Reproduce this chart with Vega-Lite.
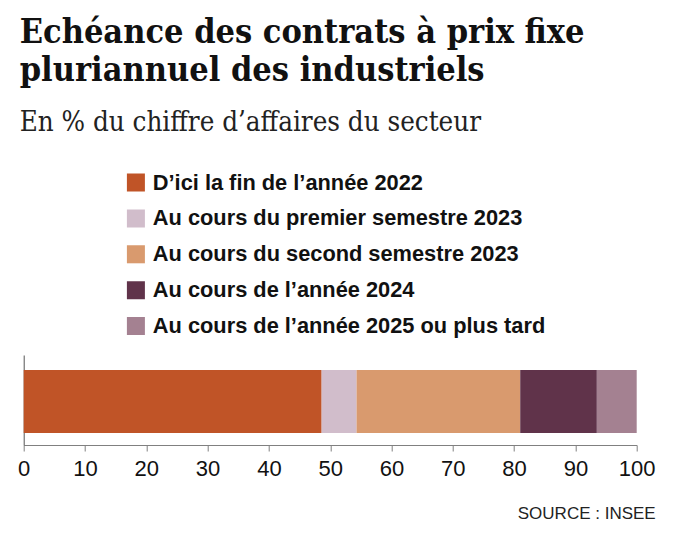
{
  "$schema": "https://vega.github.io/schema/vega-lite/v6.json",
  "autosize": "none",
  "width": 613,
  "height": 90,
  "padding": {"left": 23.7, "top": 355, "right": 41.3, "bottom": 93},
  "background": "#ffffff",
  "title": {
    "text": ["Echéance des contrats à prix fixe", "pluriannuel des industriels"],
    "subtitle": "En % du chiffre d’affaires du secteur",
    "anchor": "start",
    "frame": "group",
    "dx": -4,
    "font": "DejaVu Serif Condensed, DejaVu Serif",
    "fontSize": 34,
    "fontWeight": "bold",
    "lineHeight": 38,
    "color": "#111111",
    "subtitleFont": "DejaVu Serif Condensed, DejaVu Serif",
    "subtitleFontSize": 27.5,
    "subtitleFontWeight": "normal",
    "subtitleColor": "#222222",
    "subtitlePadding": 21,
    "offset": 35
  },
  "data": {
    "values": [
      {"secteur": "Industrie", "echeance": "D’ici la fin de l’année 2022", "rang": 1, "part": 48.6},
      {"secteur": "Industrie", "echeance": "Au cours du premier semestre 2023", "rang": 2, "part": 5.7},
      {"secteur": "Industrie", "echeance": "Au cours du second semestre 2023", "rang": 3, "part": 26.7},
      {"secteur": "Industrie", "echeance": "Au cours de l’année 2024", "rang": 4, "part": 12.5},
      {"secteur": "Industrie", "echeance": "Au cours de l’année 2025 ou plus tard", "rang": 5, "part": 6.5}
    ]
  },
  "mark": {"type": "bar"},
  "encoding": {
    "x": {
      "field": "part",
      "type": "quantitative",
      "stack": "zero",
      "scale": {"domain": [0, 100], "nice": false},
      "axis": {
        "values": [0, 10, 20, 30, 40, 50, 60, 70, 80, 90, 100],
        "grid": false,
        "domainColor": "#808080",
        "domainWidth": 1,
        "tickColor": "#808080",
        "tickWidth": 1,
        "tickSize": 6,
        "labelFont": "Liberation Sans",
        "labelFontSize": 22,
        "labelColor": "#111111",
        "labelPadding": 7,
        "labelFlush": false,
        "title": "SOURCE : INSEE",
        "titleFont": "Liberation Sans",
        "titleFontSize": 17,
        "titleFontWeight": "normal",
        "titleColor": "#222222",
        "titleAlign": "right",
        "titleBaseline": "alphabetic",
        "titleAnchor": "end",
        "titleX": 631.5,
        "titleY": 73.3
      }
    },
    "y": {
      "field": "secteur",
      "type": "nominal",
      "scale": {"paddingInner": 0, "paddingOuter": 0.214, "align": 0.556},
      "axis": {
        "title": null,
        "labels": false,
        "ticks": false,
        "domainColor": "#555555",
        "domainWidth": 1
      }
    },
    "order": {"field": "rang", "type": "quantitative"},
    "color": {
      "field": "echeance",
      "type": "nominal",
      "scale": {
        "domain": [
          "D’ici la fin de l’année 2022",
          "Au cours du premier semestre 2023",
          "Au cours du second semestre 2023",
          "Au cours de l’année 2024",
          "Au cours de l’année 2025 ou plus tard"
        ],
        "range": ["#C05427", "#D1BDCB", "#D99A6E", "#60334A", "#A48191"]
      },
      "legend": {
        "title": null,
        "orient": "none",
        "legendX": 101.3,
        "legendY": -183.5,
        "direction": "vertical",
        "padding": 0,
        "symbolType": "square",
        "symbolSize": 324,
        "symbolStrokeWidth": 0,
        "symbolOpacity": 1,
        "labelFont": "Liberation Sans",
        "labelFontSize": 21.8,
        "labelFontWeight": "bold",
        "labelColor": "#111111",
        "labelOffset": 6,
        "labelLimit": 600,
        "clipHeight": 22,
        "rowPadding": 12.9
      }
    }
  },
  "config": {
    "view": {"stroke": null}
  }
}
